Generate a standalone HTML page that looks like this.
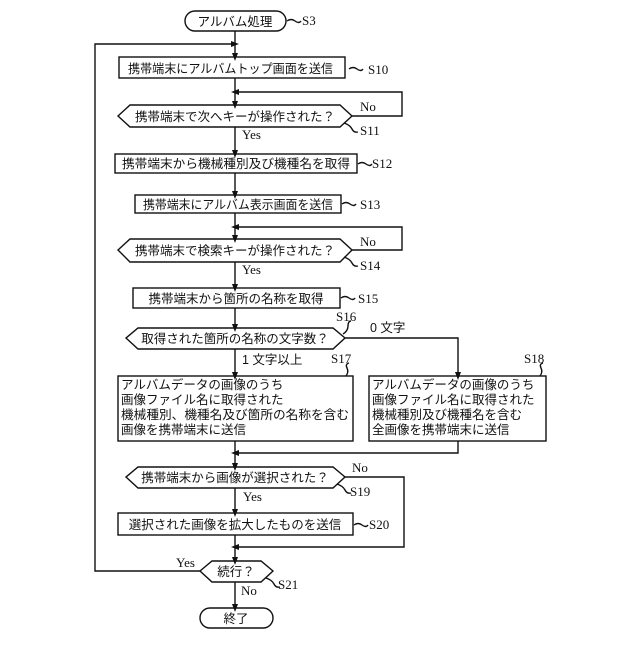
<!DOCTYPE html>
<html><head><meta charset="utf-8"><style>
body{margin:0;background:#fff}
svg text{font-family:"Liberation Serif","Noto Serif CJK SC","Noto Sans CJK JP",serif;font-size:13px;fill:#111}
.j{font-family:"Liberation Sans","Noto Sans CJK JP",sans-serif;font-size:12.5px}
</style></head><body>
<svg width="640" height="640" viewBox="0 0 640 640" xmlns="http://www.w3.org/2000/svg">
<defs><marker id="a" markerWidth="8" markerHeight="8" refX="4" refY="4" orient="auto" markerUnits="userSpaceOnUse"><path d="M0,1 L8,4 L0,7z" fill="#111"/></marker></defs>
<g fill="none" stroke="#111" stroke-width="1.4">
<rect x="185" y="11" width="101" height="20" rx="10"/>
<rect x="119" y="57" width="226" height="21"/>
<path d="M118,116 L130,105 L340,105 L352,116 L340,127 L130,127 Z"/>
<rect x="115" y="154" width="242" height="19"/>
<rect x="135" y="195" width="206" height="18"/>
<path d="M118,250 L130,239 L340,239 L352,250 L340,262 L130,262 Z"/>
<rect x="133" y="288" width="207" height="20"/>
<path d="M126,338 L138,328 L333,328 L345,338 L333,349 L138,349 Z"/>
<rect x="118" y="376" width="235" height="65"/>
<rect x="369" y="376" width="177" height="65"/>
<path d="M126,477 L138,467 L333,467 L345,477 L333,488 L138,488 Z"/>
<rect x="118" y="513" width="235" height="22"/>
<path d="M200,571 L212,561 L261,561 L273,571 L261,582 L212,582 Z"/>
<rect x="200" y="608" width="73" height="20" rx="10"/>
<path d="M235,31 V57" marker-end="url(#a)"/>
<path d="M235,78 V105" marker-end="url(#a)"/>
<path d="M235,127 V154" marker-end="url(#a)"/>
<path d="M235,173 V195" marker-end="url(#a)"/>
<path d="M235,213 V239" marker-end="url(#a)"/>
<path d="M235,262 V288" marker-end="url(#a)"/>
<path d="M235,308 V328" marker-end="url(#a)"/>
<path d="M235,349 V376" marker-end="url(#a)"/>
<path d="M235,441 V467" marker-end="url(#a)"/>
<path d="M235,488 V513" marker-end="url(#a)"/>
<path d="M235,535 V561" marker-end="url(#a)"/>
<path d="M235,582 V608" marker-end="url(#a)"/>
<path d="M200,571 H95 V44 H235" marker-end="url(#a)"/>
<path d="M352,116 H402 V92 H235" marker-end="url(#a)"/>
<path d="M352,250 H402 V227 H235" marker-end="url(#a)"/>
<path d="M345,338 H458 V376" marker-end="url(#a)"/>
<path d="M458,441 V453 H235" marker-end="url(#a)"/>
<path d="M345,477 H404 V547 H235" marker-end="url(#a)"/>
<path d="M287,21 q4,-3 8,0 t6,0"/>
<path d="M349,69 q4,-3 8,0 t6,0"/>
<path d="M344,123 q6,2 8,6 t6,3"/>
<path d="M358,164 q4,-3 8,0 t6,0"/>
<path d="M342,204 q4,-3 8,0 t6,0"/>
<path d="M344,257 q6,2 8,6 t6,3"/>
<path d="M341,298 q4,-3 8,0 t6,0"/>
<path d="M343,334 q5,-3 5,-8 t3,-5"/>
<path d="M346,376 q3,-4 1,-8 t2,-5"/>
<path d="M540,376 q3,-4 1,-8 t2,-5"/>
<path d="M337,484 q6,2 8,6 t6,3"/>
<path d="M354,525 q4,-3 8,0 t6,0"/>
<path d="M266,578 q6,2 8,6 t6,3"/>
</g>
<g>
<text x="235" y="26" text-anchor="middle" class="j">アルバム処理</text>
<text x="128" y="73" class="j" textLength="205" lengthAdjust="spacingAndGlyphs">携帯端末にアルバムトップ画面を送信</text>
<text x="235" y="121" text-anchor="middle" class="j">携帯端末で次へキーが操作された？</text>
<text x="122" y="168" class="j" textLength="228" lengthAdjust="spacingAndGlyphs">携帯端末から機械種別及び機種名を取得</text>
<text x="143" y="209" class="j" textLength="190" lengthAdjust="spacingAndGlyphs">携帯端末にアルバム表示画面を送信</text>
<text x="235" y="255" text-anchor="middle" class="j">携帯端末で検索キーが操作された？</text>
<text x="236" y="303" text-anchor="middle" class="j">携帯端末から箇所の名称を取得</text>
<text x="235" y="343" text-anchor="middle" class="j">取得された箇所の名称の文字数？</text>
<text x="121" y="389" class="j">アルバムデータの画像のうち</text>
<text x="121" y="404" class="j">画像ファイル名に取得された</text>
<text x="121" y="419" class="j" textLength="228" lengthAdjust="spacingAndGlyphs">機械種別、機種名及び箇所の名称を含む</text>
<text x="121" y="434" class="j">画像を携帯端末に送信</text>
<text x="372" y="389" class="j">アルバムデータの画像のうち</text>
<text x="372" y="404" class="j">画像ファイル名に取得された</text>
<text x="372" y="419" class="j">機械種別及び機種名を含む</text>
<text x="372" y="434" class="j">全画像を携帯端末に送信</text>
<text x="235" y="482" text-anchor="middle" class="j">携帯端末から画像が選択された？</text>
<text x="235" y="529" text-anchor="middle" class="j">選択された画像を拡大したものを送信</text>
<text x="236" y="576" text-anchor="middle" class="j">続行？</text>
<text x="236" y="623" text-anchor="middle" class="j">終了</text>
<text x="370" y="332" class="j">0 文字</text>
<text x="242" y="364" class="j">1 文字以上</text>
</g>
<text x="302" y="25">S3</text>
<text x="368" y="74">S10</text>
<text x="360" y="111">No</text>
<text x="360" y="135">S11</text>
<text x="242" y="139">Yes</text>
<text x="372" y="168">S12</text>
<text x="360" y="209">S13</text>
<text x="360" y="246">No</text>
<text x="360" y="270">S14</text>
<text x="242" y="274">Yes</text>
<text x="358" y="303">S15</text>
<text x="336" y="321">S16</text>
<text x="331" y="363">S17</text>
<text x="524" y="363">S18</text>
<text x="352" y="472">No</text>
<text x="350" y="496">S19</text>
<text x="243" y="501">Yes</text>
<text x="369" y="529">S20</text>
<text x="176" y="567">Yes</text>
<text x="278" y="589">S21</text>
<text x="241" y="595">No</text>
</svg>
</body></html>
